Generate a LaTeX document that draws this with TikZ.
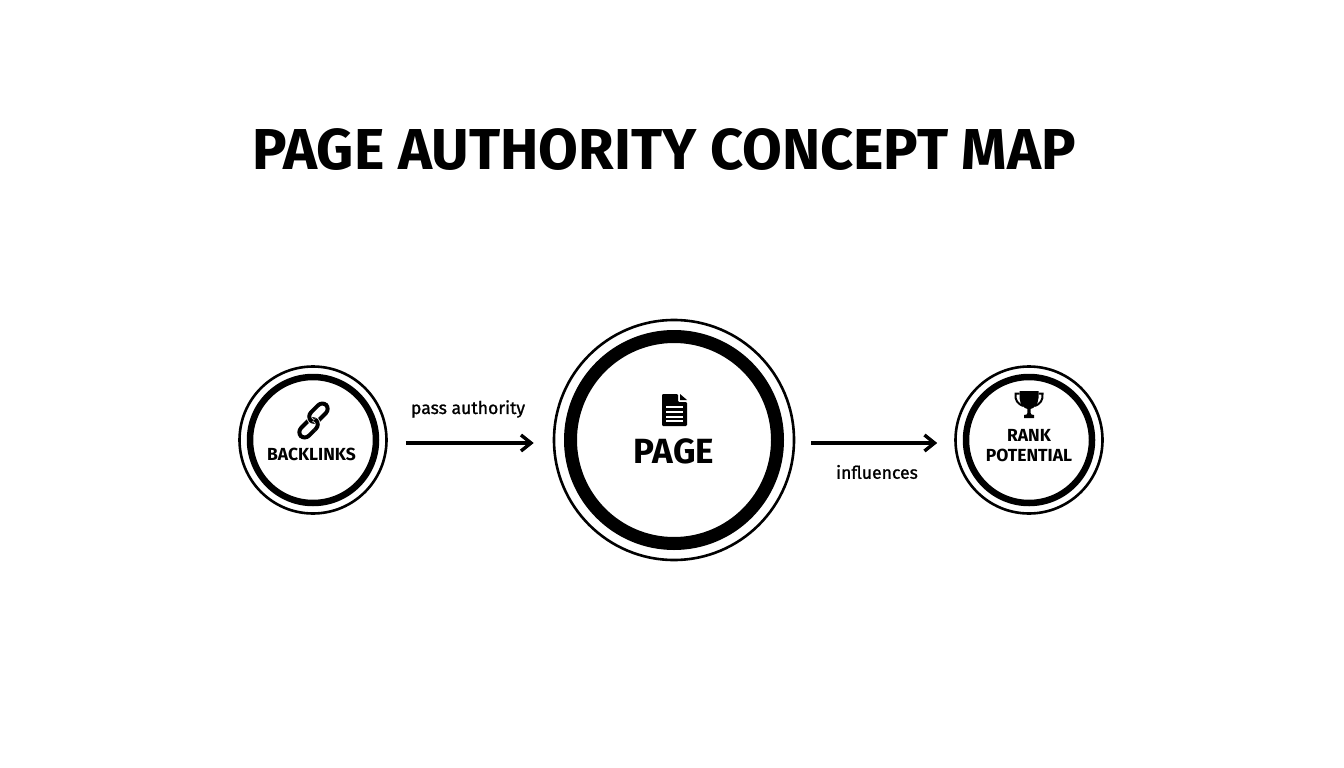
\documentclass[tikz,border=0pt]{standalone}
\usepackage{fontspec}
\setmainfont{Fira Sans}
\usetikzlibrary{arrows.meta}
\tikzset{
  ringnode/.style={circle,inner sep=0pt,draw=black,line width=2.6pt,fill=white},
  thickring/.style={draw=black,line width=6.5pt},
  flow/.style={draw=black,line width=3.4pt,-{Straight Barb[length=10pt,width=16pt,line width=3.4pt]}},
  lab/.style={font=\fontsize{17.5}{17.5}\selectfont\bfseries,align=center,inner sep=0pt},
  edgelab/.style={font=\fontsize{17.6}{18}\selectfont\addfontfeature{FakeBold=1.2},inner sep=0pt},
  icon/.style={fill=black,draw=none},
  linkhalo/.style={draw=white,line width=5.6pt,rounded corners=6pt},
  linkring/.style={draw=black,line width=4pt,rounded corners=6pt}
}
\begin{document}
\begin{tikzpicture}[x=1pt,y=-1pt]
\useasboundingbox (0,0) rectangle (1344,768);
\fill[white] (0,0) rectangle (1344,768);
\node[inner sep=0pt,font=\fontsize{57.7}{58}\selectfont\bfseries] (title) at (664,150) {PAGE AUTHORITY CONCEPT MAP};
% Nodes
\node[ringnode,minimum size=147pt] (back) at (313,440) {};
\draw[thickring] (back.center) circle[radius=63];
\node[ringnode,minimum size=240pt] (page) at (674,440) {};
\draw[line width=13pt] (page.center) circle[radius=103.5];
\node[ringnode,minimum size=147pt] (rank) at (1029,440) {};
\draw[thickring] (rank.center) circle[radius=63];
% labels
\node[lab] (backt) at (311.5,454.5) {BACKLINKS};
\node[lab,font=\fontsize{35}{35}\selectfont\bfseries] (paget) at (674,451) {PAGE};
\node[lab,font=\fontsize{17.5}{20}\selectfont\bfseries] (rankt) at (1029,446) {RANK\\POTENTIAL};
% connectors
\draw[flow,shorten <=18pt,shorten >=19pt] ([yshift=-3pt]back.east) -- ([yshift=-3pt]page.west);
\draw[flow,shorten <=16pt,shorten >=17pt] ([yshift=-3pt]page.east) -- ([yshift=-3pt]rank.west);
\node[edgelab] (pa) at (468,409) {pass authority};
\node[edgelab] (inf) at (877,472) {influences};
% link icon
\begin{scope}[shift={(313.5,420.5)},rotate=45]
  \draw[linkring] (-20,-3.5) rectangle (2,7.5);
  \draw[linkhalo] (-2,-7.5) rectangle (20,3.5);
  \draw[linkring] (-2,-7.5) rectangle (20,3.5);
  \begin{scope}
    \clip (-6,0) rectangle (6,10);
    \draw[linkhalo] (-20,-3.5) rectangle (2,7.5);
    \draw[linkring] (-20,-3.5) rectangle (2,7.5);
  \end{scope}
\end{scope}
% document icon
\begin{scope}[shift={(674,410)}]
  \fill[icon,rounded corners=1.2pt] (-12,-16) -- (4,-16) -- (4,-8) -- (13,-8) -- (13,16) -- (-12,16) -- cycle;
  \fill[icon] (6,-16) -- (13,-10) -- (6,-10) -- cycle;
  \foreach \yy in {-3,2,7,11}{\fill[white] (-8,\yy-0.9) rectangle (9,\yy+0.9);}
\end{scope}
% trophy icon
\begin{scope}[shift={(1029,405)}]
  \fill[icon] (-9.5,-14) -- (9.5,-14) -- (9.5,-7) .. controls (9,0) and (5,3) .. (1.6,4) -- (1.6,8) .. controls (1.6,9.5) and (3,10) .. (5,10) -- (5,13) -- (-5,13) -- (-5,10) .. controls (-3,10) and (-1.6,9.5) .. (-1.6,8) -- (-1.6,4) .. controls (-5,3) and (-9,0) .. (-9.5,-7) -- cycle;
  \draw[line width=2pt] (-9.5,-11.5) -- (-13.5,-11.5) .. controls (-14.5,-5) and (-11,-1) .. (-6,1);
  \draw[line width=2pt] (9.5,-11.5) -- (13.5,-11.5) .. controls (14.5,-5) and (11,-1) .. (6,1);
\end{scope}
\end{tikzpicture}
\end{document}
